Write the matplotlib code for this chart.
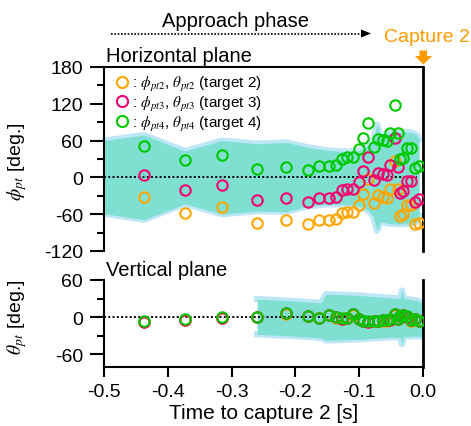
import matplotlib
matplotlib.use('Agg')
import matplotlib.pyplot as plt
from matplotlib.lines import Line2D
from matplotlib.patches import Polygon

plt.rcParams['font.family'] = ['Liberation Sans', 'DejaVu Sans']
plt.rcParams['mathtext.fontset'] = 'stix'
plt.rcParams['axes.unicode_minus'] = False

W, H = 471, 427

# ---------------- data ----------------
time_s = [-0.437, -0.373, -0.315, -0.260, -0.214, -0.180, -0.163, -0.148, -0.136, -0.127,
          -0.119, -0.110, -0.101, -0.094, -0.086, -0.077, -0.070, -0.062, -0.056, -0.052,
          -0.044, -0.039, -0.036, -0.031, -0.025, -0.019, -0.013, -0.007]

phi_t2 = [-32.0, -57.6, -48.4, -74.0, -69.6, -76.7, -70.1, -70.1, -68.5, -58.7,
          -56.5, -56.5, -45.1, -27.7, -3.3, -42.4, -29.4, -31.5, -33.2, -19.6,
          26.6, -19.6, -63.0, -60.4, -45.1, -45.1, -76.7, -74.0]
phi_t3 = [3.8, -21.2, -12.0, -37.5, -33.2, -40.2, -33.2, -33.2, -32.0, -20.7,
          -18.5, -18.5, -7.6, 10.3, 33.7, -4.3, 7.6, 4.9, 3.3, 19.6,
          63.6, 17.4, -25.0, -22.3, -6.0, -6.0, -40.2, -34.8]
phi_t4 = [50.6, 27.7, 37.0, 13.0, 17.4, 11.9, 18.5, 18.5, 19.6, 30.5,
          33.7, 33.7, 45.7, 63.6, 88.0, 50.0, 62.0, 60.4, 58.7, 73.0,
          117.5, 71.8, 29.4, 31.0, 48.4, 48.4, 15.8, 18.5]

theta_t2 = [-8.0, -5.0, -1.5, -0.5, 5.5, 1.0, -2.0, 3.0, -1.0, -3.0,
            -2.0, 4.0, -4.0, -7.0, -8.0, -7.0, -7.0, -6.0, -6.0, -5.0,
            4.0, -4.0, 1.0, 3.0, 0.0, -6.0, -4.0, -7.0]
theta_t3 = [-7.5, -4.5, -1.0, 0.0, 6.0, 1.5, -1.5, 3.5, -0.5, -2.5,
            -1.5, 4.5, -3.5, -6.5, -7.5, -6.5, -6.5, -5.5, -5.5, -4.5,
            4.5, -3.5, 1.5, 3.5, 0.5, -5.5, -3.5, -6.5]
theta_t4 = [-7.0, -4.0, -0.6, 0.5, 6.5, 2.0, -1.0, 4.0, 0.0, -2.0,
            -1.0, 5.0, -3.0, -6.0, -7.0, -6.0, -6.0, -5.0, -5.0, -4.0,
            5.0, -3.0, 2.0, 4.0, 1.0, -5.0, -3.0, -6.0]

band_h_time = [-0.500, -0.437, -0.373, -0.315, -0.260, -0.214, -0.180, -0.150, -0.120, -0.100,
               -0.086, -0.078, -0.072, -0.066, -0.055, -0.040, -0.020, -0.010, -0.006]
band_h_upper = [60, 69, 43, 60, 55, 57, 49, 44, 42, 44, 52, 60, 86, 66, 73, 74, 74, 70, 62]
band_h_lower = [-59, -69, -43, -60, -55, -56, -47, -44, -44, -47, -54, -64, -87, -72, -75, -76, -76, -72, -62]

band_v_time = [-0.260, -0.200, -0.160, -0.152, -0.100, -0.050, -0.036, -0.033, -0.030, -0.010, 0.000]
band_v_upper = [29, 26, 23, 37, 35, 31, 30, 43, 30, 27, 22]
band_v_lower = [-28, -31, -34, -38, -36, -33, -33, -44, -32, -31, -32]

legend_labels = [r': $\phi_{pt2}$, $\theta_{pt2}$ (target 2)',
                 r': $\phi_{pt3}$, $\theta_{pt3}$ (target 3)',
                 r': $\phi_{pt4}$, $\theta_{pt4}$ (target 4)']

ORANGE = '#FFA500'
PINK = '#F5006E'
GREEN = '#00C800'
TEAL = '#7FE0D2'
LBLUE = '#BDE6F6'
CAPT = '#FF9A00'
colors = [ORANGE, PINK, GREEN]

fig = plt.figure(figsize=(W / 100, H / 100), dpi=100)


def fx(x):
    return x / W


def fy(y):
    return 1 - y / H


ax1 = fig.add_axes([fx(104), fy(252), (423 - 104) / W, (252 - 68) / H])
ax2 = fig.add_axes([fx(104), fy(368), (423 - 104) / W, (368 - 281) / H])

panels = [
    (ax1, band_h_time, band_h_upper, band_h_lower, [phi_t2, phi_t3, phi_t4]),
    (ax2, band_v_time, band_v_upper, band_v_lower, [theta_t2, theta_t3, theta_t4]),
]
for ax, bt, bu, bl, series in panels:
    ax.plot(bt, bu, color=LBLUE, lw=4.5, zorder=1, solid_joinstyle='round')
    ax.plot(bt, bl, color=LBLUE, lw=4.5, zorder=1, solid_joinstyle='round')
    ax.fill_between(bt, bl, bu, color=TEAL, lw=0, zorder=1.5)
    ax.axhline(0, xmax=0.98, color='k', ls=(0, (1, 1.2)), lw=1.4, zorder=2)
    for vals, c in zip(series, colors):
        ax.plot(time_s, vals, ls='none', marker='o', mfc='none', mec=c,
                ms=7.5, mew=1.5, zorder=3)
    ax.set_xlim(-0.5, 0.0)
    for s in ax.spines.values():
        s.set_linewidth(1.5)
    ax.tick_params(axis='y', which='major', direction='out', length=10, width=1.5,
                   labelsize=14, pad=5)
    ax.tick_params(axis='y', which='minor', direction='out', length=5, width=1.5)
    ax.patch.set_alpha(0)

ax1.set_ylim(-120, 180)
ax1.set_yticks([-120, -60, 0, 60, 120, 180])
ax1.set_yticks([-90, -30, 30, 90, 150], minor=True)
ax1.spines['bottom'].set_visible(False)
ax1.tick_params(axis='x', which='both', bottom=False, labelbottom=False)
ax1.spines['right'].set_linewidth(2)

ax2.set_ylim(-81, 60)
ax2.set_yticks([-60, 0, 60])
ax2.set_yticks([-30, 30], minor=True)
ax2.spines['top'].set_visible(False)
ax2.spines['right'].set_linewidth(2)
ax2.set_xticks([-0.5, -0.4, -0.3, -0.2, -0.1, 0.0])
ax2.set_xticklabels(['-0.5', '-0.4', '-0.3', '-0.2', '-0.1', '0.0'])
ax2.tick_params(axis='x', which='major', direction='out', length=7, width=1.5,
                labelsize=14, pad=4.5)
ax2.set_xlabel('Time to capture 2 [s]', fontsize=15, labelpad=2.5)

ax1.set_ylabel(r'$\phi_{pt}$ [deg.]', fontsize=14)
ax1.yaxis.set_label_coords(-0.235, 0.49)
ax2.set_ylabel(r'$\theta_{pt}$ [deg.]', fontsize=14)
ax2.yaxis.set_label_coords(-0.235, 0.586)

handles = [Line2D([], [], ls='none', marker='o', mfc='none', mec=c, ms=8, mew=1.5)
           for c in colors]
ax1.legend(handles, legend_labels, loc='upper left',
           bbox_to_anchor=(fx(114), fy(75)), bbox_transform=fig.transFigure,
           frameon=False, fontsize=11, handlelength=1.0, handletextpad=0.15,
           labelspacing=0.05, borderpad=0, borderaxespad=0)

fig.text(fx(106), fy(62.5), 'Horizontal plane', fontsize=14.5, ha='left', va='baseline')
fig.text(fx(106), fy(276), 'Vertical plane', fontsize=14.5, ha='left', va='baseline')
fig.text(fx(236), fy(27), 'Approach phase', fontsize=14.5, ha='center', va='baseline')
fig.text(fx(427), fy(42), 'Capture 2', fontsize=14, color=CAPT, ha='center', va='baseline')

# dotted arrow for the approach phase
fig.add_artist(Line2D([fx(111), fx(362)], [fy(34.5), fy(34.5)], transform=fig.transFigure,
                      color='k', ls=(0, (1, 1)), lw=1.2))
fig.add_artist(Polygon([(fx(361), fy(30.5)), (fx(371), fy(34.5)), (fx(361), fy(38.5))],
                       closed=True, transform=fig.transFigure, color='k', lw=0))
# orange capture arrow
arrow_px = [(419.5, 51.5), (427, 51.5), (427, 57), (432, 57), (423.3, 65.5), (415, 57), (419.5, 57)]
fig.add_artist(Polygon([(fx(x), fy(y)) for x, y in arrow_px], closed=True,
                       transform=fig.transFigure, color=CAPT, lw=0))

fig.savefig('out.png', dpi=100)
